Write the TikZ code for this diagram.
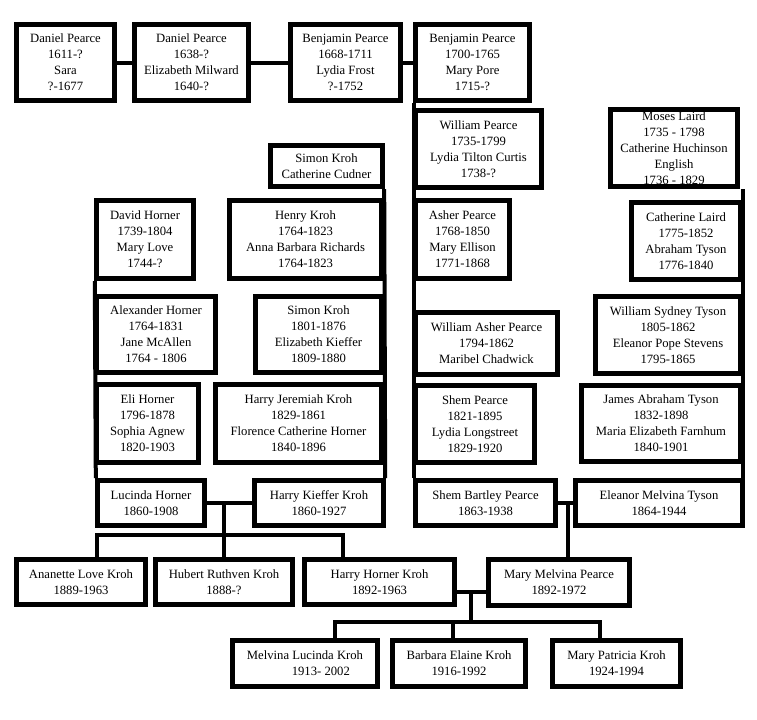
\documentclass[tikz,border=0pt]{standalone}
\usepackage{fontspec}
\setmainfont{Liberation Serif}
\usetikzlibrary{calc,backgrounds}
\tikzset{
  person/.style={rectangle, inner sep=0pt, align=center,
    font=\fontsize{9.5}{12}\selectfont,
    fill=white, draw=black, line width=3.4pt},
  inner line/.style={line width=0.6pt, black},
  link/.style={line width=3pt, black}
}
% name, left, top, right, bottom (pixels), text
\newcommand{\person}[6]{%
  \pgfmathsetmacro\bw{(#4-#2)*0.75-3.4}%
  \pgfmathsetmacro\bh{(#5-#3)*0.75-3.4}%
  \node[person, minimum width=\bw pt, minimum height=\bh pt] (#1) at ({(#2+#4)/2},{(#3+#5)/2}) {#6};
  \draw[inner line] ([shift={(3.2pt,-3.2pt)}]#1.north west) rectangle ([shift={(-3.2pt,3.2pt)}]#1.south east);}
\begin{document}
\begin{tikzpicture}[x=0.75pt, y=-0.75pt]
\useasboundingbox (0,0) rectangle (757,719);

% Pearce line
\person{dp1}{14}{22}{117}{103}{Daniel Pearce\\1611-?\\Sara\\?-1677}
\person{dp2}{132}{22}{251}{103}{Daniel Pearce\\1638-?\\Elizabeth Milward\\1640-?}
\person{bp1}{288}{22}{403}{103}{Benjamin Pearce\\1668-1711\\Lydia Frost\\?-1752}
\person{bp2}{413}{22}{532}{103}{Benjamin Pearce\\1700-1765\\Mary Pore\\1715-?}
\person{wp}{413}{108}{544}{190}{William Pearce\\1735-1799\\Lydia Tilton Curtis\\1738-?}
\person{ap}{413}{198}{512}{281}{Asher Pearce\\1768-1850\\Mary Ellison\\1771-1868}
\person{wap}{413}{310}{560}{377}{William Asher Pearce\\1794-1862\\Maribel Chadwick}
\person{sp}{413}{383}{537}{465}{Shem Pearce\\1821-1895\\Lydia Longstreet\\1829-1920}
\person{sbp}{413}{478}{558}{528}{Shem Bartley Pearce\\1863-1938}
%
% Laird / Tyson line
\person{ml}{608}{107}{740}{189}{\fontsize{9.5}{10.6}\selectfont Moses Laird\\1735 - 1798\\Catherine Huchinson\\English\\1736 - 1829}
\person{cl}{629}{200}{743}{282}{Catherine Laird\\1775-1852\\Abraham Tyson\\1776-1840}
\person{wst}{593}{294}{743}{376}{William Sydney Tyson\\1805-1862\\Eleanor Pope Stevens\\1795-1865}
\person{jat}{579}{383}{743}{464}{James Abraham Tyson\\1832-1898\\Maria Elizabeth Farnhum\\1840-1901}
\person{emt}{573}{478}{745}{528}{Eleanor Melvina Tyson\\1864-1944}
%
% Kroh line
\person{sk1}{268}{143}{385}{189}{Simon Kroh\\Catherine Cudner}
\person{hk}{227}{198}{384}{281}{Henry Kroh\\1764-1823\\Anna Barbara Richards\\1764-1823}
\person{sk2}{253}{294}{384}{375}{Simon Kroh\\1801-1876\\Elizabeth Kieffer\\1809-1880}
\person{hjk}{213}{382}{384}{465}{Harry Jeremiah Kroh\\1829-1861\\Florence Catherine Horner\\1840-1896}
\person{hkk}{252}{478}{386}{528}{Harry Kieffer Kroh\\1860-1927}
%
% Horner line
\person{dh}{94}{198}{196}{281}{David Horner\\1739-1804\\Mary Love\\1744-?}
\person{ah}{94}{294}{218}{375}{Alexander Horner\\1764-1831\\Jane McAllen\\1764 - 1806}
\person{eh}{94}{382}{201}{465}{Eli Horner\\1796-1878\\Sophia Agnew\\1820-1903}
\person{lh}{95}{478}{207}{528}{Lucinda Horner\\1860-1908}
%
% children
\person{alk}{14}{557}{148}{607}{Ananette Love Kroh\\1889-1963}
\person{hrk}{153}{557}{295}{607}{Hubert Ruthven Kroh\\1888-?}
\person{hhk}{302}{557}{457}{607}{Harry Horner Kroh\\1892-1963}
\person{mmp}{486}{557}{632}{608}{Mary Melvina Pearce\\1892-1972}
\person{mlk}{230}{638}{380}{689}{Melvina Lucinda Kroh\\\hspace*{2.5em}1913- 2002}
\person{bek}{390}{638}{528}{689}{Barbara Elaine Kroh\\1916-1992}
\person{mpk}{550}{638}{683}{689}{Mary Patricia Kroh\\1924-1994}

\begin{scope}[on background layer]
\draw [link] (dp1) -- (dp2);
\draw [link] (dp2) -- (bp1);
\draw [link] (bp1) -- (bp2);
\draw [link] ([xshift=0.6pt]bp2.south west) -- ([xshift=0.6pt]sbp.north west);
\draw [link] ([xshift=-1.2pt]emt.north east |- ml.south) -- ([xshift=-1.2pt]emt.north east);
\draw [link] ([xshift=-0.6pt]sk1.south east) -- ([xshift=-0.6pt]hkk.north east);
\draw [link] ([xshift=0.6pt]dh.south west) -- ([xshift=0.6pt]lh.north west);
%
\draw [link] (lh) -- (hkk);
\coordinate (k1) at (224,503);
\coordinate (k2) at (224,535);
\draw [link] (k1) -- (k2);
\draw [link] (alk.north -| 97,0) |- (k2) -| (hhk.north -| 343,0);
\draw [link] (k2) -- (hrk.north -| k2);
%
\draw [link] (sbp) -- (emt);
\coordinate (p1) at (568,503);
\draw [link] (p1) -- (mmp.north -| p1);
%
\draw [link] (hhk.east |- 0,592) -- (mmp.west |- 0,592);
\coordinate (c1) at (471,592);
\coordinate (c2) at (471,622);
\draw [link] (c1) -- (c2);
\draw [link] (mlk.north -| 335,0) |- (c2) -| (mpk.north -| 600,0);
\draw [link] (c2 -| 453,0) -- (bek.north -| 453,0);
\end{scope}

\end{tikzpicture}
\end{document}
